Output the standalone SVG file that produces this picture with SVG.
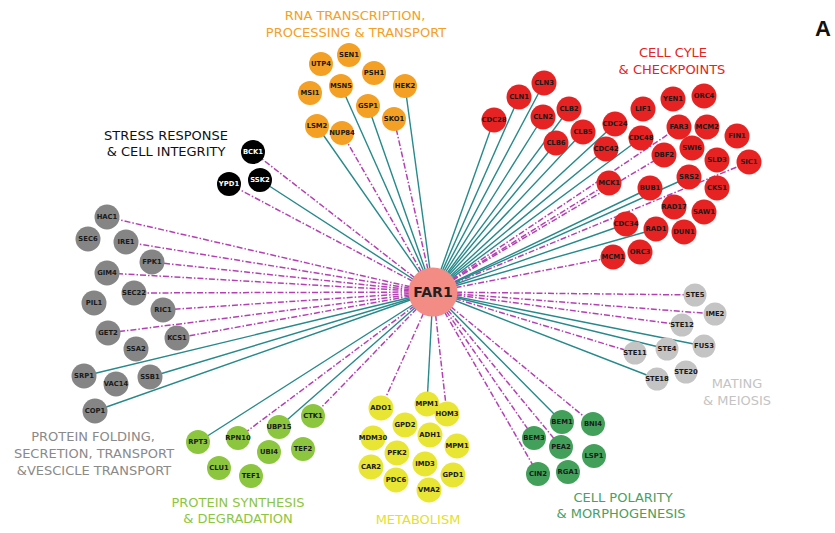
<svg xmlns="http://www.w3.org/2000/svg" width="835" height="533" viewBox="0 0 835 533">
<style>
.bg{fill:#ffffff}
.t{stroke:#26898a;stroke-width:1.4;fill:none}
.m{stroke:#b540b4;stroke-width:1.5;fill:none;stroke-dasharray:6 2 1.5 2}
.nl{font-family:"DejaVu Sans",Verdana,sans-serif;font-weight:bold;font-size:6.8px;text-anchor:middle;fill:#1a1a1a}
.wl{fill:#ffffff}
.ti{font-family:"DejaVu Sans",Verdana,sans-serif;font-size:13px;text-anchor:middle}
.or circle{fill:#f4a024}
.rd circle{fill:#e62222}
.bk circle{fill:#000000}
.gy circle{fill:#858585}
.lg circle{fill:#c4c4c4}
.gr circle{fill:#8cc63e}
.yl circle{fill:#e9e534}
.dg circle{fill:#43a05a}
</style>
<rect class="bg" x="0" y="0" width="835" height="533"/>
<g id="connectors">
<!-- orange -->
<line class="t" x1="433" y1="292" x2="341" y2="86"/>
<line class="t" x1="433" y1="292" x2="405" y2="86"/>
<line class="t" x1="433" y1="292" x2="368" y2="106"/>
<line class="m" x1="433" y1="292" x2="394" y2="119"/>
<line class="t" x1="433" y1="292" x2="317" y2="126"/>
<line class="m" x1="433" y1="292" x2="342" y2="133"/>
<!-- black -->
<line class="m" x1="433" y1="292" x2="253" y2="152"/>
<line class="t" x1="433" y1="292" x2="260" y2="180"/>
<line class="m" x1="433" y1="292" x2="229" y2="184"/>
<!-- grey -->
<line class="m" x1="433" y1="292" x2="107" y2="217"/>
<line class="m" x1="433" y1="292" x2="126" y2="242"/>
<line class="m" x1="433" y1="292" x2="152" y2="262"/>
<line class="m" x1="433" y1="292" x2="107" y2="273"/>
<line class="m" x1="433" y1="292" x2="134" y2="293"/>
<line class="m" x1="433" y1="292" x2="163" y2="310"/>
<line class="m" x1="433" y1="292" x2="108" y2="333"/>
<line class="m" x1="433" y1="292" x2="177" y2="338"/>
<line class="t" x1="433" y1="292" x2="84" y2="376"/>
<line class="t" x1="433" y1="292" x2="150" y2="377"/>
<line class="t" x1="433" y1="292" x2="95" y2="411"/>
<!-- red -->
<line class="t" x1="433" y1="292" x2="544" y2="83"/>
<line class="t" x1="433" y1="292" x2="519" y2="97"/>
<line class="t" x1="433" y1="292" x2="494" y2="120"/>
<line class="t" x1="433" y1="292" x2="543" y2="117"/>
<line class="t" x1="433" y1="292" x2="569" y2="109"/>
<line class="t" x1="433" y1="292" x2="583" y2="132"/>
<line class="t" x1="433" y1="292" x2="556" y2="143"/>
<line class="t" x1="433" y1="292" x2="615" y2="124"/>
<line class="t" x1="433" y1="292" x2="606" y2="149"/>
<line class="t" x1="433" y1="292" x2="641" y2="138"/>
<line class="m" x1="433" y1="292" x2="679" y2="127"/>
<line class="m" x1="433" y1="292" x2="664" y2="155"/>
<line class="m" x1="433" y1="292" x2="749" y2="162"/>
<line class="t" x1="433" y1="292" x2="689" y2="177"/>
<line class="m" x1="433" y1="292" x2="609" y2="183"/>
<line class="t" x1="433" y1="292" x2="650" y2="188"/>
<line class="t" x1="433" y1="292" x2="656" y2="229"/>
<line class="t" x1="433" y1="292" x2="626" y2="224"/>
<line class="m" x1="433" y1="292" x2="613" y2="257"/>
<!-- light grey -->
<line class="m" x1="433" y1="292" x2="695" y2="295"/>
<line class="m" x1="433" y1="292" x2="715" y2="314"/>
<line class="m" x1="433" y1="292" x2="682" y2="325"/>
<line class="t" x1="433" y1="292" x2="704" y2="346"/>
<line class="t" x1="433" y1="292" x2="667" y2="349"/>
<line class="m" x1="433" y1="292" x2="635" y2="353"/>
<line class="t" x1="433" y1="292" x2="657" y2="379"/>
<!-- dark green -->
<line class="t" x1="433" y1="292" x2="562" y2="422"/>
<line class="m" x1="433" y1="292" x2="593" y2="424"/>
<line class="m" x1="433" y1="292" x2="534" y2="438"/>
<line class="m" x1="433" y1="292" x2="561" y2="447"/>
<line class="m" x1="433" y1="292" x2="538" y2="474"/>
<!-- yellow -->
<line class="m" x1="433" y1="292" x2="381" y2="408"/>
<line class="t" x1="433" y1="292" x2="427" y2="404"/>
<line class="m" x1="433" y1="292" x2="447" y2="414"/>
<!-- light green -->
<line class="t" x1="433" y1="292" x2="198" y2="442"/>
<line class="m" x1="433" y1="292" x2="238" y2="438"/>
<line class="t" x1="433" y1="292" x2="279" y2="427"/>
<line class="m" x1="433" y1="292" x2="313" y2="416"/>
</g>

<g id="nodes">
<g class="or">
<g id="n-SEN1"><circle cx="349" cy="55" r="12"/><text class="nl" x="349" y="57.4">SEN1</text></g>
<g id="n-UTP4"><circle cx="321" cy="64" r="12"/><text class="nl" x="321" y="66.4">UTP4</text></g>
<g id="n-PSH1"><circle cx="374" cy="73" r="12"/><text class="nl" x="374" y="75.4">PSH1</text></g>
<g id="n-MSI1"><circle cx="310" cy="93" r="12"/><text class="nl" x="310" y="95.4">MSI1</text></g>
<g id="n-MSN5"><circle cx="341" cy="86" r="12"/><text class="nl" x="341" y="88.4">MSN5</text></g>
<g id="n-HEK2"><circle cx="405" cy="86" r="12"/><text class="nl" x="405" y="88.4">HEK2</text></g>
<g id="n-GSP1"><circle cx="368" cy="106" r="12"/><text class="nl" x="368" y="108.4">GSP1</text></g>
<g id="n-SKO1"><circle cx="394" cy="119" r="12"/><text class="nl" x="394" y="121.4">SKO1</text></g>
<g id="n-LSM2"><circle cx="317" cy="126" r="12"/><text class="nl" x="317" y="128.4">LSM2</text></g>
<g id="n-NUP84"><circle cx="342" cy="133" r="12"/><text class="nl" x="342" y="135.4">NUP84</text></g>
</g>
<g class="bk">
<g id="n-BCK1"><circle cx="253" cy="152" r="12"/><text class="nl wl" x="253" y="154.4">BCK1</text></g>
<g id="n-SSK2"><circle cx="260" cy="180" r="12"/><text class="nl wl" x="260" y="182.4">SSK2</text></g>
<g id="n-YPD1"><circle cx="229" cy="184" r="12"/><text class="nl wl" x="229" y="186.4">YPD1</text></g>
</g>
<g class="gy">
<g id="n-HAC1"><circle cx="107" cy="217" r="12.5"/><text class="nl" x="107" y="219.4">HAC1</text></g>
<g id="n-SEC6"><circle cx="88" cy="239" r="12.5"/><text class="nl" x="88" y="241.4">SEC6</text></g>
<g id="n-IRE1"><circle cx="126" cy="242" r="12.5"/><text class="nl" x="126" y="244.4">IRE1</text></g>
<g id="n-FPK1"><circle cx="152" cy="262" r="12.5"/><text class="nl" x="152" y="264.4">FPK1</text></g>
<g id="n-GIM4"><circle cx="107" cy="273" r="12.5"/><text class="nl" x="107" y="275.4">GIM4</text></g>
<g id="n-SEC22"><circle cx="134" cy="293" r="12.5"/><text class="nl" x="134" y="295.4">SEC22</text></g>
<g id="n-PIL1"><circle cx="94" cy="303" r="12.5"/><text class="nl" x="94" y="305.4">PIL1</text></g>
<g id="n-RIC1"><circle cx="163" cy="310" r="12.5"/><text class="nl" x="163" y="312.4">RIC1</text></g>
<g id="n-GET2"><circle cx="108" cy="333" r="12.5"/><text class="nl" x="108" y="335.4">GET2</text></g>
<g id="n-KCS1"><circle cx="177" cy="338" r="12.5"/><text class="nl" x="177" y="340.4">KCS1</text></g>
<g id="n-SSA2"><circle cx="136" cy="349" r="12.5"/><text class="nl" x="136" y="351.4">SSA2</text></g>
<g id="n-SRP1"><circle cx="84" cy="376" r="12.5"/><text class="nl" x="84" y="378.4">SRP1</text></g>
<g id="n-SSB1"><circle cx="150" cy="377" r="12.5"/><text class="nl" x="150" y="379.4">SSB1</text></g>
<g id="n-VAC14"><circle cx="116" cy="384" r="12.5"/><text class="nl" x="116" y="386.4">VAC14</text></g>
<g id="n-COP1"><circle cx="95" cy="411" r="12.5"/><text class="nl" x="95" y="413.4">COP1</text></g>
</g>
<g class="rd">
<g id="n-CLN3"><circle cx="544" cy="83" r="12.5"/><text class="nl" x="544" y="85.4">CLN3</text></g>
<g id="n-CLN1"><circle cx="519" cy="97" r="12.5"/><text class="nl" x="519" y="99.4">CLN1</text></g>
<g id="n-CDC28"><circle cx="494" cy="120" r="12.5"/><text class="nl" x="494" y="122.4">CDC28</text></g>
<g id="n-CLN2"><circle cx="543" cy="117" r="12.5"/><text class="nl" x="543" y="119.4">CLN2</text></g>
<g id="n-CLB2"><circle cx="569" cy="109" r="12.5"/><text class="nl" x="569" y="111.4">CLB2</text></g>
<g id="n-CLB5"><circle cx="583" cy="132" r="12.5"/><text class="nl" x="583" y="134.4">CLB5</text></g>
<g id="n-CLB6"><circle cx="556" cy="143" r="12.5"/><text class="nl" x="556" y="145.4">CLB6</text></g>
<g id="n-CDC24"><circle cx="615" cy="124" r="12.5"/><text class="nl" x="615" y="126.4">CDC24</text></g>
<g id="n-CDC42"><circle cx="606" cy="149" r="12.5"/><text class="nl" x="606" y="151.4">CDC42</text></g>
<g id="n-CDC48"><circle cx="641" cy="138" r="12.5"/><text class="nl" x="641" y="140.4">CDC48</text></g>
<g id="n-LIF1"><circle cx="643" cy="109" r="12.5"/><text class="nl" x="643" y="111.4">LIF1</text></g>
<g id="n-YEN1"><circle cx="673" cy="99" r="12.5"/><text class="nl" x="673" y="101.4">YEN1</text></g>
<g id="n-ORC4"><circle cx="704" cy="96" r="12.5"/><text class="nl" x="704" y="98.4">ORC4</text></g>
<g id="n-FAR3"><circle cx="679" cy="127" r="12.5"/><text class="nl" x="679" y="129.4">FAR3</text></g>
<g id="n-MCM2"><circle cx="707" cy="127" r="12.5"/><text class="nl" x="707" y="129.4">MCM2</text></g>
<g id="n-FIN1"><circle cx="737" cy="136" r="12.5"/><text class="nl" x="737" y="138.4">FIN1</text></g>
<g id="n-DBF2"><circle cx="664" cy="155" r="12.5"/><text class="nl" x="664" y="157.4">DBF2</text></g>
<g id="n-SWI6"><circle cx="692" cy="148" r="12.5"/><text class="nl" x="692" y="150.4">SWI6</text></g>
<g id="n-SLD3"><circle cx="717" cy="160" r="12.5"/><text class="nl" x="717" y="162.4">SLD3</text></g>
<g id="n-SIC1"><circle cx="749" cy="162" r="12.5"/><text class="nl" x="749" y="164.4">SIC1</text></g>
<g id="n-SRS2"><circle cx="689" cy="177" r="12.5"/><text class="nl" x="689" y="179.4">SRS2</text></g>
<g id="n-CKS1"><circle cx="717" cy="188" r="12.5"/><text class="nl" x="717" y="190.4">CKS1</text></g>
<g id="n-MCK1"><circle cx="609" cy="183" r="12.5"/><text class="nl" x="609" y="185.4">MCK1</text></g>
<g id="n-BUB1"><circle cx="650" cy="188" r="12.5"/><text class="nl" x="650" y="190.4">BUB1</text></g>
<g id="n-RAD17"><circle cx="674" cy="207" r="12.5"/><text class="nl" x="674" y="209.4">RAD17</text></g>
<g id="n-SAW1"><circle cx="704" cy="212" r="12.5"/><text class="nl" x="704" y="214.4">SAW1</text></g>
<g id="n-DUN1"><circle cx="684" cy="232" r="12.5"/><text class="nl" x="684" y="234.4">DUN1</text></g>
<g id="n-RAD1"><circle cx="656" cy="229" r="12.5"/><text class="nl" x="656" y="231.4">RAD1</text></g>
<g id="n-CDC34"><circle cx="626" cy="224" r="12.5"/><text class="nl" x="626" y="226.4">CDC34</text></g>
<g id="n-ORC3"><circle cx="640" cy="252" r="12.5"/><text class="nl" x="640" y="254.4">ORC3</text></g>
<g id="n-MCM1"><circle cx="613" cy="257" r="12.5"/><text class="nl" x="613" y="259.4">MCM1</text></g>
</g>
<g class="lg">
<g id="n-STE5"><circle cx="695" cy="295" r="11.5"/><text class="nl" x="695" y="297.4">STE5</text></g>
<g id="n-IME2"><circle cx="715" cy="314" r="11.5"/><text class="nl" x="715" y="316.4">IME2</text></g>
<g id="n-STE12"><circle cx="682" cy="325" r="11.5"/><text class="nl" x="682" y="327.4">STE12</text></g>
<g id="n-FUS3"><circle cx="704" cy="346" r="11.5"/><text class="nl" x="704" y="348.4">FUS3</text></g>
<g id="n-STE4"><circle cx="667" cy="349" r="11.5"/><text class="nl" x="667" y="351.4">STE4</text></g>
<g id="n-STE11"><circle cx="635" cy="353" r="11.5"/><text class="nl" x="635" y="355.4">STE11</text></g>
<g id="n-STE20"><circle cx="686" cy="372" r="11.5"/><text class="nl" x="686" y="374.4">STE20</text></g>
<g id="n-STE18"><circle cx="657" cy="379" r="11.5"/><text class="nl" x="657" y="381.4">STE18</text></g>
</g>
<g class="dg">
<g id="n-BEM1"><circle cx="562" cy="422" r="12"/><text class="nl" x="562" y="424.4">BEM1</text></g>
<g id="n-BNI4"><circle cx="593" cy="424" r="12"/><text class="nl" x="593" y="426.4">BNI4</text></g>
<g id="n-BEM3"><circle cx="534" cy="438" r="12"/><text class="nl" x="534" y="440.4">BEM3</text></g>
<g id="n-PEA2"><circle cx="561" cy="447" r="12"/><text class="nl" x="561" y="449.4">PEA2</text></g>
<g id="n-LSP1"><circle cx="594" cy="456" r="12"/><text class="nl" x="594" y="458.4">LSP1</text></g>
<g id="n-CIN2"><circle cx="538" cy="474" r="12"/><text class="nl" x="538" y="476.4">CIN2</text></g>
<g id="n-RGA1"><circle cx="568" cy="472" r="12"/><text class="nl" x="568" y="474.4">RGA1</text></g>
</g>
<g class="yl">
<g id="n-ADO1"><circle cx="381" cy="408" r="12.5"/><text class="nl" x="381" y="410.4">ADO1</text></g>
<g id="n-MPM1a"><circle cx="427" cy="404" r="12.5"/><text class="nl" x="427" y="406.4">MPM1</text></g>
<g id="n-HOM3"><circle cx="447" cy="414" r="12.5"/><text class="nl" x="447" y="416.4">HOM3</text></g>
<g id="n-GPD2"><circle cx="405" cy="425" r="12.5"/><text class="nl" x="405" y="427.4">GPD2</text></g>
<g id="n-MDM30"><circle cx="373" cy="438" r="12.5"/><text class="nl" x="373" y="440.4">MDM30</text></g>
<g id="n-ADH1"><circle cx="430" cy="435" r="12.5"/><text class="nl" x="430" y="437.4">ADH1</text></g>
<g id="n-MPM1b"><circle cx="457" cy="446" r="12.5"/><text class="nl" x="457" y="448.4">MPM1</text></g>
<g id="n-PFK2"><circle cx="397" cy="453" r="12.5"/><text class="nl" x="397" y="455.4">PFK2</text></g>
<g id="n-CAR2"><circle cx="371" cy="467" r="12.5"/><text class="nl" x="371" y="469.4">CAR2</text></g>
<g id="n-IMD3"><circle cx="425" cy="464" r="12.5"/><text class="nl" x="425" y="466.4">IMD3</text></g>
<g id="n-GPD1"><circle cx="453" cy="475" r="12.5"/><text class="nl" x="453" y="477.4">GPD1</text></g>
<g id="n-PDC6"><circle cx="396" cy="480" r="12.5"/><text class="nl" x="396" y="482.4">PDC6</text></g>
<g id="n-VMA2"><circle cx="429" cy="490" r="12.5"/><text class="nl" x="429" y="492.4">VMA2</text></g>
</g>
<g class="gr">
<g id="n-RPT3"><circle cx="198" cy="442" r="12"/><text class="nl" x="198" y="444.4">RPT3</text></g>
<g id="n-RPN10"><circle cx="238" cy="438" r="12"/><text class="nl" x="238" y="440.4">RPN10</text></g>
<g id="n-UBP15"><circle cx="279" cy="427" r="12"/><text class="nl" x="279" y="429.4">UBP15</text></g>
<g id="n-CTK1"><circle cx="313" cy="416" r="12"/><text class="nl" x="313" y="418.4">CTK1</text></g>
<g id="n-UBI4"><circle cx="269" cy="452" r="12"/><text class="nl" x="269" y="454.4">UBI4</text></g>
<g id="n-TEF2"><circle cx="303" cy="449" r="12"/><text class="nl" x="303" y="451.4">TEF2</text></g>
<g id="n-CLU1"><circle cx="219" cy="468" r="12"/><text class="nl" x="219" y="470.4">CLU1</text></g>
<g id="n-TEF1"><circle cx="251" cy="476" r="12"/><text class="nl" x="251" y="478.4">TEF1</text></g>
</g>
<g id="n-FAR1"><circle cx="433" cy="292" r="24.5" fill="#f28c84"/><text x="433" y="297" font-family="DejaVu Sans, Verdana, sans-serif" font-weight="bold" font-size="14" text-anchor="middle" fill="#222222">FAR1</text></g>
</g>

<g id="titles">
<text class="ti" fill="#f4a024" x="355" y="20">RNA TRANSCRIPTION,</text>
<text class="ti" fill="#f4a024" x="356" y="37">PROCESSING &amp; TRANSPORT</text>
<text class="ti" fill="#e62222" x="673" y="57">CELL CYLE</text>
<text class="ti" fill="#e62222" x="672" y="74">&amp; CHECKPOINTS</text>
<text class="ti" fill="#111111" x="166" y="140">STRESS RESPONSE</text>
<text class="ti" fill="#111111" x="166" y="156">&amp; CELL INTEGRITY</text>
<text class="ti" fill="#8a8a8a" x="93" y="441">PROTEIN FOLDING,</text>
<text class="ti" fill="#8a8a8a" x="94" y="458">SECRETION, TRANSPORT</text>
<text class="ti" fill="#8a8a8a" x="94" y="475">&amp;VESCICLE TRANSPORT</text>
<text class="ti" fill="#8cc63e" x="238" y="507">PROTEIN SYNTHESIS</text>
<text class="ti" fill="#8cc63e" x="238" y="523">&amp; DEGRADATION</text>
<text class="ti" fill="#e3df2c" x="418" y="524">METABOLISM</text>
<text class="ti" fill="#4aa060" x="623" y="502">CELL POLARITY</text>
<text class="ti" fill="#4aa060" x="621" y="518">&amp; MORPHOGENESIS</text>
<text class="ti" fill="#c4c4c4" x="737" y="388">MATING</text>
<text class="ti" fill="#c4c4c4" x="737" y="405">&amp; MEIOSIS</text>
<text x="823" y="36" font-family="Liberation Sans, Arial, sans-serif" font-weight="bold" font-size="22" text-anchor="middle" fill="#111111">A</text>
</g>
</svg>
